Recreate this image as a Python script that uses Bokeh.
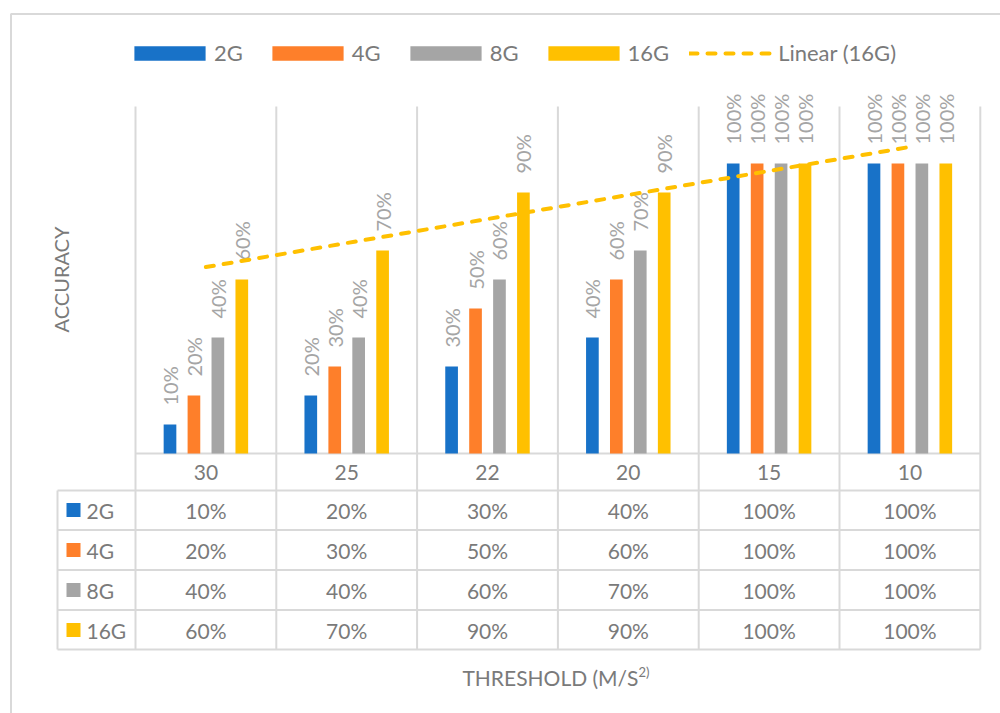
import numpy as np
from bokeh.plotting import figure
from bokeh.models import ColumnDataSource, Range1d, Legend, LegendItem
from bokeh.transform import dodge
from bokeh.core.properties import value
from bokeh.embed import file_html
from bokeh.resources import INLINE

# ---------------- data ----------------
categories = ["30", "25", "22", "20", "15", "10"]
series_names = ["2G", "4G", "8G", "16G"]
acc_2g = [0.10, 0.20, 0.30, 0.40, 1.00, 1.00]
acc_4g = [0.20, 0.30, 0.50, 0.60, 1.00, 1.00]
acc_8g = [0.40, 0.40, 0.60, 0.70, 1.00, 1.00]
acc_16g = [0.60, 0.70, 0.90, 0.90, 1.00, 1.00]
x_title = "THRESHOLD (M/S"
x_title_sup = "2)"
y_title = "ACCURACY"
trend_label = "Linear (16G)"

# ---------------- styles ----------------
colors = ["#1872C8", "#FE7F2A", "#A5A5A5", "#FFC000"]
GRID = "#D9D9D9"
TXT = "#7A7A7A"
LBL = "#A5A5A5"
FONT = value("Lato")

W, H = 1000, 713
X0, CW = 135.0, 140.8   # pixel of left category boundary, pixels per category
Y0, YS = 453.0, 290.0   # pixel of value 0, pixels per unit (100%)


def px2x(px):
    return 0.5 + (px - X0) / CW


def px2y(py):
    return (Y0 - py) / YS


p = figure(width=W, height=H,
           x_range=Range1d(px2x(0), px2x(W)),
           y_range=Range1d(px2y(H), px2y(0)),
           x_axis_type=None, y_axis_type=None,
           toolbar_location=None, output_backend="svg",
           min_border=0, outline_line_color=None)
p.background_fill_color = "white"
p.border_fill_color = "white"

n = len(categories)
xs_idx = list(range(1, n + 1))
series = [acc_2g, acc_4g, acc_8g, acc_16g]

# outer chart border
p.line(x=[px2x(10.5), px2x(10.5), px2x(1002)],
       y=[px2y(715), px2y(13.5), px2y(13.5)],
       line_color=GRID, line_width=2)

# vertical separators (plot + table)
bounds = [i + 0.5 for i in range(n + 1)]
p.segment(x0=bounds, y0=[px2y(106)] * len(bounds), x1=bounds, y1=[px2y(649)] * len(bounds),
          line_color=GRID, line_width=2)
# axis line
p.segment(x0=[0.5], y0=[0], x1=[n + 0.5], y1=[0], line_color=GRID, line_width=2)
# table horizontal lines
row_lines = [490, 529.5, 569.5, 609.5, 649]
p.segment(x0=[px2x(57)] * len(row_lines), y0=[px2y(r) for r in row_lines],
          x1=[n + 0.5] * len(row_lines), y1=[px2y(r) for r in row_lines],
          line_color=GRID, line_width=2)
p.segment(x0=[px2x(57)], y0=[px2y(490)], x1=[px2x(57)], y1=[px2y(649)],
          line_color=GRID, line_width=2)

# bars + data labels
data = dict(x=xs_idx)
for nm, vals in zip(series_names, series):
    data[nm] = vals
    data[nm + "_lbl"] = [f"{round(v * 100)}%" for v in vals]
src = ColumnDataSource(data)

offsets = [-0.255, -0.085, 0.085, 0.255]
bar_renderers = []
for nm, off, c in zip(series_names, offsets, colors):
    r = p.vbar(x=dodge("x", off, range=p.x_range), top=nm, width=0.09, bottom=0,
               source=src, fill_color=c, line_color=None)
    bar_renderers.append(r)
    p.text(x=dodge("x", off, range=p.x_range), y=dodge(nm, 19 / YS, range=p.y_range),
           text=nm + "_lbl", angle=np.pi / 2, text_align="left", text_baseline="middle",
           text_font=FONT, text_font_size="20px", text_color=LBL, source=src)

# linear trendline of 16G
coef = np.polyfit(xs_idx, acc_16g, 1)
tx = [xs_idx[0], xs_idx[-1]]
ty = list(np.polyval(coef, tx))
trend = p.line(x=tx, y=ty, line_color="#FFC000", line_width=4,
               line_dash="8 10", line_cap="round")

# category labels
p.text(x=xs_idx, y=[px2y(472)] * n, text=categories, text_align="center",
       text_baseline="middle", text_font=FONT, text_font_size="21px", text_color=TXT)

# data table
row_centers = [510, 550, 590, 630]
for nm, vals, rc in zip(series_names, series, row_centers):
    p.text(x=xs_idx, y=[px2y(rc)] * n, text=[f"{round(v * 100)}%" for v in vals],
           text_align="center", text_baseline="middle", text_font=FONT,
           text_font_size="21px", text_color=TXT)
p.scatter(x=[px2x(73)] * 4, y=[px2y(rc - 0.5) for rc in row_centers], marker="square",
          size=14, fill_color=colors, line_color=None)
p.text(x=[px2x(86)] * 4, y=[px2y(rc) for rc in row_centers], text=series_names,
       text_align="left", text_baseline="middle", text_font=FONT,
       text_font_size="21px", text_color=TXT)

# axis titles
p.text(x=[px2x(60)], y=[px2y(279)], text=[y_title], angle=np.pi / 2,
       text_align="center", text_baseline="middle", text_font=FONT,
       text_font_size="20px", text_color=TXT)
p.text(x=[px2x(638)], y=[px2y(677)], text=[x_title], text_align="right",
       text_baseline="alphabetic", text_font=FONT, text_font_size="21px", text_color=TXT)
p.text(x=[px2x(638)], y=[px2y(671)], text=[x_title_sup], text_align="left",
       text_baseline="alphabetic", text_font=FONT, text_font_size="13px", text_color=TXT)

# legend
items = [LegendItem(label=nm, renderers=[r]) for nm, r in zip(series_names, bar_renderers)]
items.append(LegendItem(label=trend_label, renderers=[trend]))
legend = Legend(items=items, orientation="horizontal", location=(125, 647),
                glyph_width=89, glyph_height=18, label_standoff=-3, spacing=20,
                padding=0, margin=0, border_line_color=None, background_fill_alpha=0,
                label_text_font="Lato", label_text_font_size="22px",
                label_text_color=TXT)
p.add_layout(legend)

open("out.html", "w").write(file_html(p, INLINE))
